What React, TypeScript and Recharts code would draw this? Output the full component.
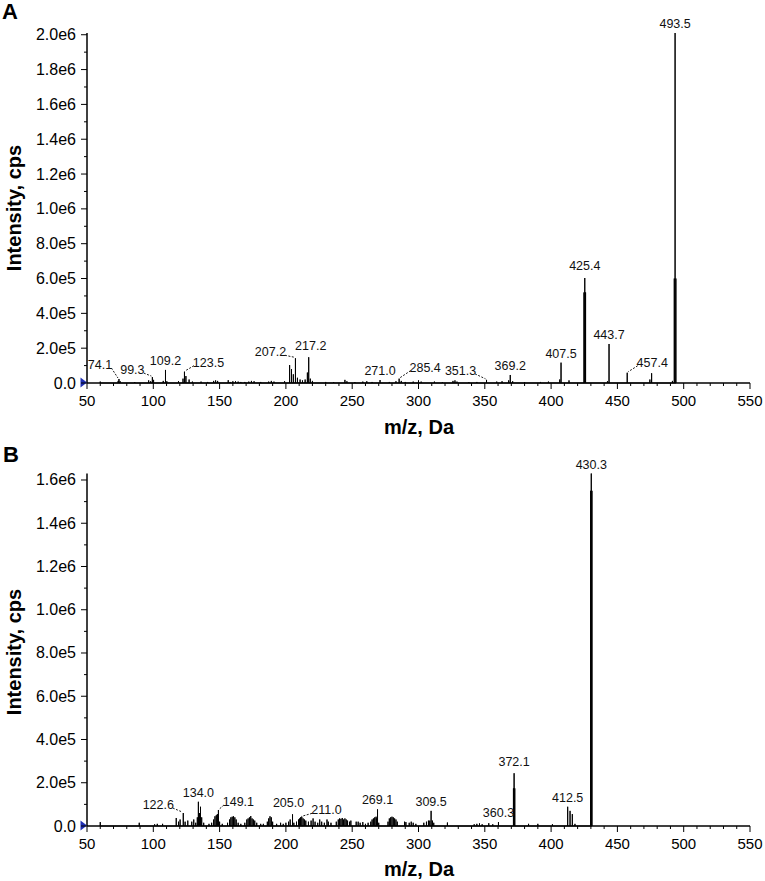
import React from "react";
import { ComposedChart, Line, Scatter, XAxis, YAxis, ReferenceDot } from "recharts";

const FONT = '"Liberation Sans", Arial, Helvetica, sans-serif';

// m/z tick labels (both panels)
const X_TICKS = [50, 100, 150, 200, 250, 300, 350, 400, 450, 500, 550];

// panel A: [m/z, intensity cps]
const PEAKS_A: [number, number][] = [
  [60, 8e3], [73.5, 1.2e4], [74.1, 2.3e4], [75, 1e4], [86, 5e3], [96.5, 1.5e4], [98, 1e4],
  [99.3, 3.4e4], [100.2, 1.8e4], [107.5, 1.2e4], [109.2, 7.5e4], [110.2, 1e4], [119, 1e4],
  [122.4, 2.5e4], [123.5, 6.5e4], [124.6, 4e4], [127, 2e4], [129.5, 8e3], [136, 8e3], [141, 6e3],
  [145.5, 1.2e4], [147, 1.5e4], [148.5, 1.2e4], [156.5, 1.6e4], [158, 6e3], [160, 1e4], [162, 1e4],
  [164, 8e3], [166, 6e3], [169, 6e3], [172, 8e3], [174, 1.2e4], [176, 1e4], [181, 6e3], [187, 8e3],
  [189, 1.2e4], [191, 8e3], [199, 1e4], [202.8, 1.03e5], [204.2, 8e4], [205.6, 5e4], [207.2, 1.42e5],
  [208.7, 3e4], [210.7, 2e4], [212.5, 1.5e4], [214.5, 2e4], [216.2, 6e4], [217.2, 1.48e5], [218.4, 2.5e4],
  [220, 1.2e4], [230, 6e3], [236, 5e3], [244.5, 1.8e4], [246, 1e4], [252, 5e3], [258, 8e3], [261, 1e4],
  [265, 6e3], [271.0, 1.7e4], [278, 6e3], [283, 1e4], [285.4, 2.5e4], [287, 1.2e4], [290, 6e3], [296, 8e3],
  [300, 1.5e4], [302, 8e3], [312, 8e3], [318, 5e3], [326, 1.2e4], [327.5, 1.5e4], [329, 8e3], [338, 5e3],
  [344, 6e3], [351.3, 1.8e4], [359, 8e3], [363, 1e4], [368, 1.5e4], [369.2, 4.6e4], [371, 1e4], [380, 5e3],
  [392, 6e3], [398, 8e3], [406.5, 2e4], [407.5, 1.17e5], [413.5, 1.5e4], [424.8, 5.2e5], [425.4, 6.03e5],
  [426, 5.2e5], [442.5, 1e4], [443.7, 2.24e5], [457.4, 5.9e4], [474.5, 2e4], [475.8, 5.6e4], [491.5, 1.2e4],
  [492.9, 6e5], [493.5, 2.01e6], [494.1, 6e5],
];
const LABELS_A = [74.1, 99.3, 109.2, 123.5, 207.2, 217.2, 271.0, 285.4, 351.3, 369.2, 407.5, 425.4, 443.7, 457.4, 493.5];
const Y_TICKS_A = [0, 2e5, 4e5, 6e5, 8e5, 1e6, 1.2e6, 1.4e6, 1.6e6, 1.8e6, 2e6];

// panel B
const PEAKS_B: [number, number][] = [
  [60, 1.8e4], [89.4, 1.5e4], [101, 8e3], [103, 1e4], [107, 1e4], [117.3, 3.7e4], [119, 2e4], [120.2, 3e4],
  [122.6, 6e4], [124, 2e4], [126, 2.5e4], [129, 2e4], [130.5, 3e4], [132, 1.5e4], [133.2, 4e4], [134.0, 1.12e5],
  [134.8, 6e4], [135.6, 8.9e4], [136.5, 4e4], [138, 1.5e4], [142, 1e4], [144, 1.5e4], [145.5, 3e4],
  [146.5, 4.5e4], [147.5, 5e4], [148.3, 5.5e4], [149.1, 7.4e4], [150, 2e4], [152, 1e4], [156, 1.5e4],
  [157.5, 3e4], [158.5, 4e4], [159.5, 4.3e4], [160.5, 4.5e4], [161.5, 4e4], [162.5, 3e4], [164, 1.5e4],
  [166, 1e4], [169, 1.5e4], [170.5, 3e4], [171.5, 3.5e4], [172.5, 4e4], [173.5, 4.6e4], [174.5, 3.5e4],
  [175.5, 3e4], [176.5, 2.5e4], [178, 1.5e4], [181, 1e4], [183, 1e4], [186, 2e4], [187, 3.5e4], [188, 4.5e4],
  [189, 4e4], [190, 2e4], [193, 1e4], [196, 1.5e4], [198, 1e4], [200, 1.5e4], [202, 2e4], [203.2, 3e4],
  [205.0, 5.4e4], [206, 1.5e4], [208, 2e4], [209.5, 3e4], [210.3, 3.5e4], [211.0, 4e4], [212, 4.3e4],
  [213, 3.5e4], [214, 3e4], [215, 2.5e4], [217, 2e4], [219, 2.5e4], [220.5, 3.5e4], [222, 2e4], [224, 1.5e4],
  [225.5, 3e4], [227, 2e4], [229, 1.5e4], [231, 3e4], [232, 2e4], [234, 1.5e4], [238, 2e4], [239.5, 3e4],
  [240.5, 3.5e4], [241.5, 3.3e4], [242.5, 3.7e4], [243.5, 3e4], [244.5, 3.5e4], [245.5, 3e4], [246.5, 2.5e4],
  [248, 2e4], [249, 2.5e4], [253, 2e4], [254.5, 2e4], [256, 1.5e4], [258, 1.8e4], [260, 1e4], [262, 1.5e4],
  [264, 2e4], [265, 3e4], [266, 3.5e4], [267, 4e4], [268, 4.3e4], [268.5, 3.5e4], [269.1, 7.7e4], [270, 1.5e4],
  [277, 2e4], [278, 3.5e4], [279, 4e4], [280, 4.3e4], [281, 4e4], [282, 3.5e4], [283, 3e4], [284, 2e4],
  [289.5, 2e4], [290.5, 1.8e4], [293, 1.5e4], [294.5, 2e4], [296, 1.5e4], [298, 1e4], [304, 1.5e4], [306, 2e4],
  [307.5, 2.5e4], [308.5, 2.5e4], [309.5, 7e4], [310.5, 2.5e4], [311.5, 1.5e4], [321.8, 1.6e4], [342, 8e3],
  [344, 1e4], [346, 1.2e4], [348, 8e3], [353, 1.3e4], [356, 8e3], [360.3, 1.8e4], [371.6, 1.74e5],
  [372.1, 2.44e5], [372.6, 1.74e5], [383, 1e4], [390, 1e4], [401, 8e3], [412.5, 8.9e4], [414.3, 7e4],
  [416, 5.5e4], [418, 1e4], [429.8, 1.55e6], [430.3, 1.63e6], [430.8, 1.55e6],
];
const LABELS_B = [122.6, 134.0, 149.1, 205.0, 211.0, 269.1, 309.5, 360.3, 372.1, 412.5, 430.3];
const Y_TICKS_B = [0, 2e5, 4e5, 6e5, 8e5, 1e6, 1.2e6, 1.4e6, 1.6e6];

// label offsets from the peak tip (px), only where the label is moved off the peak
const LAYOUT_A: Record<string, [number, number]> = {
  "74.1": [-19, -14], "99.3": [-20, -7], "123.5": [24, -9], "207.2": [-25, -6], "217.2": [2, -11],
  "285.4": [26, -11], "351.3": [-26, -9], "425.4": [0, -12], "457.4": [25, -10],
};
const LAYOUT_B: Record<string, [number, number]> = {
  "122.6": [-25, -8], "149.1": [20, -8], "205.0": [-4, -11], "211.0": [26, -7], "372.1": [0, -11],
};

function sticks(peaks: [number, number][]) {
  return [...peaks]
    .sort((a, b) => a[0] - b[0])
    .flatMap(([mz, v]) => [{ mz, v: 0 }, { mz, v }, { mz, v: 0 }]);
}

function labelRows(peaks: [number, number][], labels: number[]) {
  return labels.map((l) => {
    let best = peaks[0];
    for (const p of peaks) if (Math.abs(p[0] - l) < Math.abs(best[0] - l)) best = p;
    return { mz: best[0], v: best[1], text: l.toFixed(1) };
  });
}

function withMinor(major: number[]) {
  const out: number[] = [];
  major.forEach((m, i) => {
    out.push(m);
    if (i < major.length - 1) {
      const step = (major[i + 1] - m) / 5;
      for (let k = 1; k < 5; k++) out.push(m + step * k);
    }
  });
  return out;
}

function fmtY(v: number) {
  if (v === 0) return "0.0";
  const e = Math.floor(Math.log10(v) + 1e-9);
  return (v / Math.pow(10, e)).toFixed(1) + "e" + e;
}

const X_ALL = withMinor(X_TICKS);

function Panel({ peaks, labels, layout, yMajor, yMax, height, plotTop, xAxisH }: any) {
  const yAll: number[] = [];
  yMajor.forEach((m: number, i: number) => {
    yAll.push(m);
    if (i < yMajor.length - 1) yAll.push((m + yMajor[i + 1]) / 2);
  });

  const XTick = (p: any) => {
    const major = X_TICKS.includes(p.payload.value);
    return (
      <g>
        <line x1={p.x} x2={p.x} y1={p.y} y2={p.y + (major ? 6 : 3)} stroke="#000" strokeWidth={1} />
        {major && (
          <text x={p.x} y={p.y + 17} textAnchor="middle" dominantBaseline="central" fontSize={15} fontFamily={FONT} fill="#000">
            {p.payload.value}
          </text>
        )}
      </g>
    );
  };

  const YTick = (p: any) => {
    const major = yMajor.includes(p.payload.value);
    return (
      <g>
        <line x1={p.x - (major ? 6 : 3)} x2={p.x} y1={p.y} y2={p.y} stroke="#000" strokeWidth={1} />
        {major && (
          <text x={p.x - 11} y={p.y} textAnchor="end" dominantBaseline="central" fontSize={16} fontFamily={FONT} fill="#000">
            {fmtY(p.payload.value)}
          </text>
        )}
      </g>
    );
  };

  const LabelShape = (p: any) => {
    const { cx, cy, payload } = p;
    const [dx, dy] = layout[payload.text] || [0, -9];
    const lx = cx + dx;
    const ly = cy + dy;
    const half = payload.text.length * 3.1;
    let leader = null;
    if (dx < -10) {
      leader = <line x1={lx + half - 1} y1={ly + 3} x2={cx - 1} y2={cy - 1} stroke="#000" strokeWidth={0.9} strokeDasharray="2 1.5" />;
    } else if (dx > 10) {
      leader = <line x1={lx - half + 1} y1={ly + 3} x2={cx + 1} y2={cy - 1} stroke="#000" strokeWidth={0.9} strokeDasharray="2 1.5" />;
    }
    return (
      <g>
        {leader}
        <text x={lx} y={ly} textAnchor="middle" dominantBaseline="central" fontSize={12.5} fontFamily={FONT} fill="#111">
          {payload.text}
        </text>
      </g>
    );
  };

  return (
    <ComposedChart width={765} height={height} data={sticks(peaks)} margin={{ top: plotTop, right: 15, bottom: 0, left: 0 }}>
      <XAxis
        dataKey="mz"
        type="number"
        domain={[50, 550]}
        ticks={X_ALL}
        interval={0}
        tickSize={0}
        tickMargin={0}
        tick={XTick}
        height={xAxisH}
        axisLine={{ stroke: "#000", strokeWidth: 1.5 }}
      />
      <YAxis
        type="number"
        domain={[0, yMax]}
        ticks={yAll}
        interval={0}
        tickSize={0}
        tickMargin={0}
        tick={YTick}
        width={87}
        axisLine={{ stroke: "#000", strokeWidth: 1.5 }}
      />
      <Line dataKey="v" type="linear" stroke="#000" strokeWidth={1} dot={false} activeDot={false} isAnimationActive={false} />
      <Scatter data={labelRows(peaks, labels)} dataKey="v" shape={LabelShape} isAnimationActive={false} />
      <ReferenceDot
        x={50}
        y={0}
        r={0}
        ifOverflow="visible"
        shape={(p: any) => (
          <polygon points={`${p.cx - 6.5},${p.cy - 5.5} ${p.cx},${p.cy - 0.5} ${p.cx - 6.5},${p.cy + 4.5}`} fill="#1f2fb5" />
        )}
      />
    </ComposedChart>
  );
}

const titleStyle: React.CSSProperties = {
  position: "absolute",
  fontFamily: FONT,
  fontWeight: 700,
  fontSize: 20,
  lineHeight: "20px",
  whiteSpace: "nowrap",
  color: "#000",
  transform: "translate(-50%, -50%)",
};

export default function App() {
  return (
    <div style={{ position: "absolute", left: 0, top: 0, width: 765, height: 881, background: "#fff", fontFamily: FONT }}>
      <div style={{ position: "absolute", left: 0, top: 0 }}>
        <Panel peaks={PEAKS_A} labels={LABELS_A} layout={LAYOUT_A} yMajor={Y_TICKS_A} yMax={2.01e6} height={440} plotTop={33} xAxisH={57} />
      </div>
      <div style={{ position: "absolute", left: 0, top: 440 }}>
        <Panel peaks={PEAKS_B} labels={LABELS_B} layout={LAYOUT_B} yMajor={Y_TICKS_B} yMax={1.63e6} height={441} plotTop={33.5} xAxisH={55} />
      </div>

      <div style={{ ...titleStyle, fontSize: 22, left: 10, top: 12 }}>A</div>
      <div style={{ ...titleStyle, fontSize: 22, left: 11, top: 455 }}>B</div>

      <div style={{ ...titleStyle, left: 14, top: 208, transform: "translate(-50%, -50%) rotate(-90deg)" }}>Intensity, cps</div>
      <div style={{ ...titleStyle, left: 14, top: 652, transform: "translate(-50%, -50%) rotate(-90deg)" }}>Intensity, cps</div>

      <div style={{ ...titleStyle, left: 419, top: 427 }}>m/z, Da</div>
      <div style={{ ...titleStyle, left: 419, top: 869 }}>m/z, Da</div>
    </div>
  );
}
